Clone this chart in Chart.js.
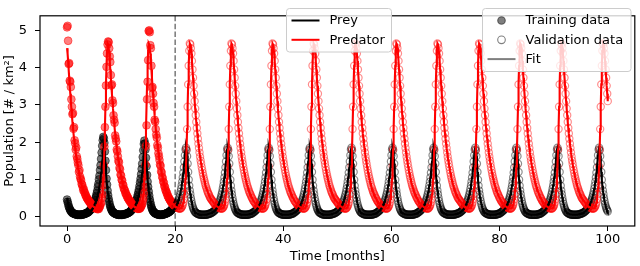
<!DOCTYPE html>
<html>
<head>
<meta charset="utf-8">
<script src="https://cdn.jsdelivr.net/npm/chart.js@4"></script>
<style>
html, body { margin: 0; padding: 0; background: #fff; }
</style>
</head>
<body>
<canvas id="chart" width="640" height="266"></canvas>
<script>
// every series is sampled each 0.1 month
const step = 0.1;
const trainEnd = 20;
const xTicks = [0, 20, 40, 60, 80, 100];
const yTicks = [0, 1, 2, 3, 4, 5];

// training observations, t = 0 .. 20
const trainPrey = [
    0.46, 0.40, 0.35, 0.28, 0.25, 0.20, 0.18, 0.15, 0.13, 0.12, 0.10, 0.09, 0.09, 0.08, 0.07, 0.07, 0.06, 0.06, 0.06, 0.05,
    0.05, 0.05, 0.06, 0.05, 0.05, 0.05, 0.06, 0.05, 0.06, 0.06, 0.06, 0.07, 0.07, 0.08, 0.08, 0.09, 0.10, 0.10, 0.11, 0.12,
    0.13, 0.15, 0.16, 0.18, 0.19, 0.22, 0.24, 0.27, 0.29, 0.33, 0.36, 0.41, 0.45, 0.51, 0.56, 0.63, 0.70, 0.80, 0.88, 1.00,
    1.10, 1.25, 1.38, 1.55, 1.72, 1.90, 2.05, 2.14, 2.10, 1.98, 1.75, 1.50, 1.25, 1.02, 0.86,
    0.70, 0.58, 0.48, 0.40, 0.33, 0.27, 0.23, 0.19, 0.16, 0.14, 0.12, 0.11, 0.10, 0.09, 0.08, 0.07, 0.07, 0.06, 0.06, 0.06,
    0.05, 0.05, 0.05, 0.06, 0.05, 0.05, 0.05, 0.06, 0.05, 0.06, 0.06, 0.07, 0.06, 0.07, 0.08, 0.08, 0.09, 0.09, 0.10, 0.11,
    0.12, 0.13, 0.14, 0.16, 0.17, 0.19, 0.21, 0.23, 0.26, 0.28, 0.31, 0.35, 0.38, 0.43, 0.47, 0.53, 0.59, 0.66, 0.73, 0.82,
    0.92, 1.02, 1.14, 1.28, 1.42, 1.60, 1.78, 1.95, 2.04, 1.96, 1.80, 1.58, 1.35, 1.12, 0.94, 0.80,
    0.68, 0.57, 0.47, 0.39, 0.32, 0.26, 0.22, 0.18, 0.15, 0.13, 0.12, 0.10, 0.09, 0.08, 0.08, 0.07, 0.06, 0.06, 0.06, 0.05,
    0.05, 0.05, 0.05, 0.06, 0.05, 0.05, 0.06, 0.06, 0.06, 0.07, 0.07, 0.08, 0.08, 0.09, 0.10, 0.10, 0.11, 0.12, 0.13, 0.14,
    0.15, 0.17, 0.18, 0.20, 0.22, 0.24, 0.27, 0.30, 0.33, 0.36
];
const trainPredator = [
    5.08, 5.12, 4.72, 4.10, 4.12, 3.65, 3.62, 3.48, 3.15, 2.95, 2.75, 2.78, 2.36, 2.40, 2.05, 1.97, 1.80, 1.86, 1.62, 1.55,
    1.45, 1.38, 1.20, 1.25, 1.08, 1.02, 0.98, 0.88, 0.86, 0.79, 0.71, 0.74, 0.66, 0.64, 0.58, 0.57, 0.52, 0.50, 0.47, 0.45,
    0.44, 0.40, 0.39, 0.38, 0.33, 0.34, 0.30, 0.31, 0.27, 0.28, 0.25, 0.27, 0.23, 0.24, 0.21, 0.23, 0.22, 0.20, 0.23, 0.21,
    0.26, 0.28, 0.34, 0.37, 0.50, 0.60, 0.84, 1.05, 1.38, 1.88, 2.40, 2.95, 3.52, 4.02, 4.38,
    4.62, 4.70, 4.68, 4.52, 4.30, 4.15, 3.80, 3.52, 3.55, 3.12, 3.05, 2.72, 2.60, 2.52, 2.18, 2.10, 2.02, 1.80, 1.75, 1.62,
    1.50, 1.46, 1.31, 1.27, 1.13, 1.10, 0.99, 0.97, 0.86, 0.85, 0.76, 0.73, 0.70, 0.63, 0.63, 0.57, 0.56, 0.50, 0.51, 0.46,
    0.44, 0.43, 0.39, 0.40, 0.35, 0.34, 0.32, 0.31, 0.28, 0.29, 0.26, 0.27, 0.24, 0.25, 0.22, 0.24, 0.21, 0.22, 0.21, 0.23,
    0.22, 0.25, 0.27, 0.31, 0.34, 0.42, 0.50, 0.63, 0.80, 1.08, 1.40, 1.90, 2.45, 3.15, 3.62, 4.20,
    4.98, 5.00, 4.95, 4.60, 4.52, 4.05, 3.45, 3.48, 3.30, 3.05, 2.95, 2.60, 2.55, 2.35, 2.20, 2.12, 1.92, 1.85, 1.70, 1.62,
    1.52, 1.40, 1.36, 1.22, 1.18, 1.07, 1.03, 0.94, 0.91, 0.82, 0.80, 0.72, 0.70, 0.64, 0.63, 0.56, 0.55, 0.50, 0.49, 0.45,
    0.44, 0.40, 0.39, 0.36, 0.36, 0.33, 0.32, 0.30, 0.30, 0.28
];

// fitted model, t = 0 .. 100, one row per predator cycle
const fitPrey = [
    0.50, 0.42, 0.35, 0.29, 0.24, 0.20, 0.17, 0.14, 0.12, 0.11, 0.10, 0.09, 0.08, 0.07, 0.07, 0.06, 0.06, 0.06, 0.05, 0.05, 0.05, 0.05, 0.05, 0.05, 0.05, 0.05, 0.05, 0.05, 0.05, 0.06, 0.06, 0.06, 0.07, 0.07, 0.08, 0.08, 0.09, 0.09, 0.10, 0.11, 0.12, 0.13, 0.14, 0.15, 0.17, 0.18, 0.20, 0.22, 0.24, 0.27, 0.30, 0.33, 0.36, 0.40, 0.44, 0.49, 0.54, 0.60, 0.67, 0.75, 0.84, 0.94, 1.05, 1.18, 1.32, 1.48, 1.65, 1.80, 1.85, 1.78, 1.62, 1.42, 1.20, 0.99, 0.83,
    0.70, 0.60, 0.50, 0.42, 0.35, 0.29, 0.24, 0.20, 0.17, 0.14, 0.12, 0.11, 0.10, 0.09, 0.08, 0.07, 0.07, 0.06, 0.06, 0.06, 0.05, 0.05, 0.05, 0.05, 0.05, 0.05, 0.05, 0.05, 0.05, 0.05, 0.05, 0.06, 0.06, 0.06, 0.07, 0.07, 0.08, 0.08, 0.09, 0.09, 0.11, 0.12, 0.13, 0.14, 0.15, 0.17, 0.18, 0.20, 0.22, 0.24, 0.27, 0.30, 0.33, 0.36, 0.40, 0.44, 0.49, 0.54, 0.60, 0.67, 0.75, 0.84, 0.94, 1.05, 1.18, 1.32, 1.48, 1.65, 1.80, 1.85, 1.78, 1.62, 1.42, 1.20, 0.99, 0.83,
    0.70, 0.60, 0.50, 0.42, 0.35, 0.29, 0.24, 0.20, 0.17, 0.14, 0.12, 0.11, 0.10, 0.09, 0.08, 0.07, 0.07, 0.06, 0.06, 0.06, 0.05, 0.05, 0.05, 0.05, 0.05, 0.05, 0.05, 0.05, 0.05, 0.05, 0.05, 0.06, 0.06, 0.06, 0.07, 0.07, 0.08, 0.08, 0.09, 0.09, 0.11, 0.12, 0.13, 0.14, 0.15, 0.17, 0.18, 0.20, 0.22, 0.24, 0.27, 0.30, 0.33, 0.36, 0.40, 0.44, 0.49, 0.54, 0.60, 0.67, 0.75, 0.84, 0.94, 1.05, 1.18, 1.32, 1.48, 1.65, 1.80, 1.85, 1.78, 1.62, 1.42, 1.20, 0.99, 0.83,
    0.70, 0.60, 0.50, 0.42, 0.35, 0.29, 0.24, 0.20, 0.17, 0.14, 0.12, 0.11, 0.10, 0.09, 0.08, 0.07, 0.07, 0.06, 0.06, 0.06, 0.05, 0.05, 0.05, 0.05, 0.05, 0.05, 0.05, 0.05, 0.05, 0.05, 0.05, 0.06, 0.06, 0.06, 0.07, 0.07, 0.08, 0.08, 0.09, 0.09, 0.10, 0.11, 0.12, 0.13, 0.14, 0.15, 0.17, 0.18, 0.20, 0.22, 0.24, 0.27, 0.30, 0.33, 0.36, 0.40, 0.44, 0.49, 0.54, 0.60, 0.67, 0.75, 0.84, 0.94, 1.05, 1.18, 1.32, 1.48, 1.65, 1.80, 1.85, 1.78, 1.62, 1.42, 1.20, 0.99, 0.83,
    0.70, 0.60, 0.50, 0.42, 0.35, 0.29, 0.24, 0.20, 0.17, 0.14, 0.12, 0.11, 0.10, 0.09, 0.08, 0.07, 0.07, 0.06, 0.06, 0.06, 0.05, 0.05, 0.05, 0.05, 0.05, 0.05, 0.05, 0.05, 0.05, 0.05, 0.05, 0.06, 0.06, 0.06, 0.07, 0.07, 0.08, 0.08, 0.09, 0.09, 0.11, 0.12, 0.13, 0.14, 0.15, 0.17, 0.18, 0.20, 0.22, 0.24, 0.27, 0.30, 0.33, 0.36, 0.40, 0.44, 0.49, 0.54, 0.60, 0.67, 0.75, 0.84, 0.94, 1.05, 1.18, 1.32, 1.48, 1.65, 1.80, 1.85, 1.78, 1.62, 1.42, 1.20, 0.99, 0.83,
    0.70, 0.60, 0.50, 0.42, 0.35, 0.29, 0.24, 0.20, 0.17, 0.14, 0.12, 0.11, 0.10, 0.09, 0.08, 0.07, 0.07, 0.06, 0.06, 0.06, 0.05, 0.05, 0.05, 0.05, 0.05, 0.05, 0.05, 0.05, 0.05, 0.05, 0.05, 0.06, 0.06, 0.06, 0.07, 0.07, 0.08, 0.08, 0.09, 0.09, 0.11, 0.12, 0.13, 0.14, 0.15, 0.17, 0.18, 0.20, 0.22, 0.24, 0.27, 0.30, 0.33, 0.36, 0.40, 0.44, 0.49, 0.54, 0.60, 0.67, 0.75, 0.84, 0.94, 1.05, 1.18, 1.32, 1.48, 1.65, 1.80, 1.85, 1.78, 1.62, 1.42, 1.20, 0.99, 0.83,
    0.70, 0.60, 0.50, 0.42, 0.35, 0.29, 0.24, 0.20, 0.17, 0.14, 0.12, 0.11, 0.10, 0.09, 0.08, 0.07, 0.07, 0.06, 0.06, 0.06, 0.05, 0.05, 0.05, 0.05, 0.05, 0.05, 0.05, 0.05, 0.05, 0.05, 0.05, 0.06, 0.06, 0.06, 0.07, 0.07, 0.08, 0.08, 0.09, 0.09, 0.10, 0.11, 0.12, 0.13, 0.14, 0.15, 0.17, 0.18, 0.20, 0.22, 0.24, 0.27, 0.30, 0.33, 0.36, 0.40, 0.44, 0.49, 0.54, 0.60, 0.67, 0.75, 0.84, 0.94, 1.05, 1.18, 1.32, 1.48, 1.65, 1.80, 1.85, 1.78, 1.62, 1.42, 1.20, 0.99, 0.83,
    0.70, 0.60, 0.50, 0.42, 0.35, 0.29, 0.24, 0.20, 0.17, 0.14, 0.12, 0.11, 0.10, 0.09, 0.08, 0.07, 0.07, 0.06, 0.06, 0.06, 0.05, 0.05, 0.05, 0.05, 0.05, 0.05, 0.05, 0.05, 0.05, 0.05, 0.05, 0.06, 0.06, 0.06, 0.07, 0.07, 0.08, 0.08, 0.09, 0.09, 0.11, 0.12, 0.13, 0.14, 0.15, 0.17, 0.18, 0.20, 0.22, 0.24, 0.27, 0.30, 0.33, 0.36, 0.40, 0.44, 0.49, 0.54, 0.60, 0.67, 0.75, 0.84, 0.94, 1.05, 1.18, 1.32, 1.48, 1.65, 1.80, 1.85, 1.78, 1.62, 1.42, 1.20, 0.99, 0.83,
    0.70, 0.60, 0.50, 0.42, 0.35, 0.29, 0.24, 0.20, 0.17, 0.14, 0.12, 0.11, 0.10, 0.09, 0.08, 0.07, 0.07, 0.06, 0.06, 0.06, 0.05, 0.05, 0.05, 0.05, 0.05, 0.05, 0.05, 0.05, 0.05, 0.05, 0.05, 0.06, 0.06, 0.06, 0.07, 0.07, 0.08, 0.08, 0.09, 0.09, 0.11, 0.12, 0.13, 0.14, 0.15, 0.17, 0.18, 0.20, 0.22, 0.24, 0.27, 0.30, 0.33, 0.36, 0.40, 0.44, 0.49, 0.54, 0.60, 0.67, 0.75, 0.84, 0.94, 1.05, 1.18, 1.32, 1.48, 1.65, 1.80, 1.85, 1.78, 1.62, 1.42, 1.20, 0.99, 0.83,
    0.70, 0.60, 0.50, 0.42, 0.35, 0.29, 0.24, 0.20, 0.17, 0.14, 0.12, 0.11, 0.10, 0.09, 0.08, 0.07, 0.07, 0.06, 0.06, 0.06, 0.05, 0.05, 0.05, 0.05, 0.05, 0.05, 0.05, 0.05, 0.05, 0.05, 0.05, 0.06, 0.06, 0.06, 0.07, 0.07, 0.08, 0.08, 0.09, 0.09, 0.10, 0.11, 0.12, 0.13, 0.14, 0.15, 0.17, 0.18, 0.20, 0.22, 0.24, 0.27, 0.30, 0.33, 0.36, 0.40, 0.44, 0.49, 0.54, 0.60, 0.67, 0.75, 0.84, 0.94, 1.05, 1.18, 1.32, 1.48, 1.65, 1.80, 1.85, 1.78, 1.62, 1.42, 1.20, 0.99, 0.83,
    0.70, 0.60, 0.50, 0.42, 0.35, 0.29, 0.24, 0.20, 0.17, 0.14, 0.12, 0.11, 0.10, 0.09, 0.08, 0.07, 0.07, 0.06, 0.06, 0.06, 0.05, 0.05, 0.05, 0.05, 0.05, 0.05, 0.05, 0.05, 0.05, 0.05, 0.05, 0.06, 0.06, 0.06, 0.07, 0.07, 0.08, 0.08, 0.09, 0.09, 0.11, 0.12, 0.13, 0.14, 0.15, 0.17, 0.18, 0.20, 0.22, 0.24, 0.27, 0.30, 0.33, 0.36, 0.40, 0.44, 0.49, 0.54, 0.60, 0.67, 0.75, 0.84, 0.94, 1.05, 1.18, 1.32, 1.48, 1.65, 1.80, 1.85, 1.78, 1.62, 1.42, 1.20, 0.99, 0.83,
    0.70, 0.60, 0.50, 0.42, 0.35, 0.29, 0.24, 0.20, 0.17, 0.14, 0.12, 0.11, 0.10, 0.09, 0.08, 0.07, 0.07, 0.06, 0.06, 0.06, 0.05, 0.05, 0.05, 0.05, 0.05, 0.05, 0.05, 0.05, 0.05, 0.05, 0.05, 0.06, 0.06, 0.06, 0.07, 0.07, 0.08, 0.08, 0.09, 0.09, 0.11, 0.12, 0.13, 0.14, 0.15, 0.17, 0.18, 0.20, 0.22, 0.24, 0.27, 0.30, 0.33, 0.36, 0.40, 0.44, 0.49, 0.54, 0.60, 0.67, 0.75, 0.84, 0.94, 1.05, 1.18, 1.32, 1.48, 1.65, 1.80, 1.85, 1.78, 1.62, 1.42, 1.20, 0.99, 0.83,
    0.70, 0.60, 0.50, 0.42, 0.35, 0.29, 0.24, 0.20, 0.17, 0.14, 0.12, 0.11, 0.10, 0.09, 0.08, 0.07, 0.07, 0.06, 0.06, 0.06, 0.05, 0.05, 0.05, 0.05, 0.05, 0.05, 0.05, 0.05, 0.05, 0.05, 0.05, 0.06, 0.06, 0.06, 0.07, 0.07, 0.08, 0.08, 0.09, 0.09, 0.10, 0.11, 0.12, 0.13, 0.14, 0.15, 0.17, 0.18, 0.20, 0.22, 0.24, 0.27, 0.30, 0.33, 0.36, 0.40, 0.44, 0.49, 0.54, 0.60, 0.67, 0.75, 0.84, 0.94, 1.05, 1.18, 1.32, 1.48, 1.65, 1.80, 1.85, 1.78, 1.62, 1.42, 1.20, 0.99, 0.83,
    0.70, 0.60, 0.50, 0.42, 0.35, 0.29, 0.24, 0.20, 0.17, 0.14
];
const fitPredator = [
    4.52, 4.38, 4.18, 3.95, 3.73, 3.51, 3.30, 3.10, 2.90, 2.72, 2.54, 2.38, 2.23, 2.09, 1.96, 1.84, 1.72, 1.61, 1.51, 1.42, 1.33, 1.25, 1.17, 1.10, 1.03, 0.97, 0.91, 0.85, 0.80, 0.76, 0.71, 0.67, 0.63, 0.60, 0.57, 0.53, 0.50, 0.48, 0.46, 0.44, 0.42, 0.40, 0.38, 0.36, 0.34, 0.32, 0.31, 0.29, 0.28, 0.27, 0.26, 0.25, 0.24, 0.23, 0.23, 0.22, 0.22, 0.22, 0.22, 0.23, 0.25, 0.28, 0.32, 0.38, 0.47, 0.60, 0.78, 1.02, 1.35, 1.80, 2.35, 2.95, 3.55, 4.05, 4.45,
    4.65, 4.62, 4.52, 4.38, 4.18, 3.95, 3.73, 3.51, 3.30, 3.10, 2.90, 2.72, 2.54, 2.38, 2.23, 2.09, 1.96, 1.84, 1.72, 1.61, 1.51, 1.42, 1.33, 1.25, 1.17, 1.10, 1.03, 0.97, 0.91, 0.85, 0.80, 0.76, 0.71, 0.67, 0.63, 0.60, 0.57, 0.53, 0.50, 0.48, 0.44, 0.42, 0.40, 0.38, 0.36, 0.34, 0.32, 0.31, 0.29, 0.28, 0.27, 0.26, 0.25, 0.24, 0.23, 0.23, 0.22, 0.22, 0.22, 0.22, 0.23, 0.25, 0.28, 0.32, 0.38, 0.47, 0.60, 0.78, 1.02, 1.35, 1.80, 2.35, 2.95, 3.55, 4.05, 4.45,
    4.65, 4.62, 4.52, 4.38, 4.18, 3.95, 3.73, 3.51, 3.30, 3.10, 2.90, 2.72, 2.54, 2.38, 2.23, 2.09, 1.96, 1.84, 1.72, 1.61, 1.51, 1.42, 1.33, 1.25, 1.17, 1.10, 1.03, 0.97, 0.91, 0.85, 0.80, 0.76, 0.71, 0.67, 0.63, 0.60, 0.57, 0.53, 0.50, 0.48, 0.44, 0.42, 0.40, 0.38, 0.36, 0.34, 0.32, 0.31, 0.29, 0.28, 0.27, 0.26, 0.25, 0.24, 0.23, 0.23, 0.22, 0.22, 0.22, 0.22, 0.23, 0.25, 0.28, 0.32, 0.38, 0.47, 0.60, 0.78, 1.02, 1.35, 1.80, 2.35, 2.95, 3.55, 4.05, 4.45,
    4.65, 4.62, 4.52, 4.38, 4.18, 3.95, 3.73, 3.51, 3.30, 3.10, 2.90, 2.72, 2.54, 2.38, 2.23, 2.09, 1.96, 1.84, 1.72, 1.61, 1.51, 1.42, 1.33, 1.25, 1.17, 1.10, 1.03, 0.97, 0.91, 0.85, 0.80, 0.76, 0.71, 0.67, 0.63, 0.60, 0.57, 0.53, 0.50, 0.48, 0.46, 0.44, 0.42, 0.40, 0.38, 0.36, 0.34, 0.32, 0.31, 0.29, 0.28, 0.27, 0.26, 0.25, 0.24, 0.23, 0.23, 0.22, 0.22, 0.22, 0.22, 0.23, 0.25, 0.28, 0.32, 0.38, 0.47, 0.60, 0.78, 1.02, 1.35, 1.80, 2.35, 2.95, 3.55, 4.05, 4.45,
    4.65, 4.62, 4.52, 4.38, 4.18, 3.95, 3.73, 3.51, 3.30, 3.10, 2.90, 2.72, 2.54, 2.38, 2.23, 2.09, 1.96, 1.84, 1.72, 1.61, 1.51, 1.42, 1.33, 1.25, 1.17, 1.10, 1.03, 0.97, 0.91, 0.85, 0.80, 0.76, 0.71, 0.67, 0.63, 0.60, 0.57, 0.53, 0.50, 0.48, 0.44, 0.42, 0.40, 0.38, 0.36, 0.34, 0.32, 0.31, 0.29, 0.28, 0.27, 0.26, 0.25, 0.24, 0.23, 0.23, 0.22, 0.22, 0.22, 0.22, 0.23, 0.25, 0.28, 0.32, 0.38, 0.47, 0.60, 0.78, 1.02, 1.35, 1.80, 2.35, 2.95, 3.55, 4.05, 4.45,
    4.65, 4.62, 4.52, 4.38, 4.18, 3.95, 3.73, 3.51, 3.30, 3.10, 2.90, 2.72, 2.54, 2.38, 2.23, 2.09, 1.96, 1.84, 1.72, 1.61, 1.51, 1.42, 1.33, 1.25, 1.17, 1.10, 1.03, 0.97, 0.91, 0.85, 0.80, 0.76, 0.71, 0.67, 0.63, 0.60, 0.57, 0.53, 0.50, 0.48, 0.44, 0.42, 0.40, 0.38, 0.36, 0.34, 0.32, 0.31, 0.29, 0.28, 0.27, 0.26, 0.25, 0.24, 0.23, 0.23, 0.22, 0.22, 0.22, 0.22, 0.23, 0.25, 0.28, 0.32, 0.38, 0.47, 0.60, 0.78, 1.02, 1.35, 1.80, 2.35, 2.95, 3.55, 4.05, 4.45,
    4.65, 4.62, 4.52, 4.38, 4.18, 3.95, 3.73, 3.51, 3.30, 3.10, 2.90, 2.72, 2.54, 2.38, 2.23, 2.09, 1.96, 1.84, 1.72, 1.61, 1.51, 1.42, 1.33, 1.25, 1.17, 1.10, 1.03, 0.97, 0.91, 0.85, 0.80, 0.76, 0.71, 0.67, 0.63, 0.60, 0.57, 0.53, 0.50, 0.48, 0.46, 0.44, 0.42, 0.40, 0.38, 0.36, 0.34, 0.32, 0.31, 0.29, 0.28, 0.27, 0.26, 0.25, 0.24, 0.23, 0.23, 0.22, 0.22, 0.22, 0.22, 0.23, 0.25, 0.28, 0.32, 0.38, 0.47, 0.60, 0.78, 1.02, 1.35, 1.80, 2.35, 2.95, 3.55, 4.05, 4.45,
    4.65, 4.62, 4.52, 4.38, 4.18, 3.95, 3.73, 3.51, 3.30, 3.10, 2.90, 2.72, 2.54, 2.38, 2.23, 2.09, 1.96, 1.84, 1.72, 1.61, 1.51, 1.42, 1.33, 1.25, 1.17, 1.10, 1.03, 0.97, 0.91, 0.85, 0.80, 0.76, 0.71, 0.67, 0.63, 0.60, 0.57, 0.53, 0.50, 0.48, 0.44, 0.42, 0.40, 0.38, 0.36, 0.34, 0.32, 0.31, 0.29, 0.28, 0.27, 0.26, 0.25, 0.24, 0.23, 0.23, 0.22, 0.22, 0.22, 0.22, 0.23, 0.25, 0.28, 0.32, 0.38, 0.47, 0.60, 0.78, 1.02, 1.35, 1.80, 2.35, 2.95, 3.55, 4.05, 4.45,
    4.65, 4.62, 4.52, 4.38, 4.18, 3.95, 3.73, 3.51, 3.30, 3.10, 2.90, 2.72, 2.54, 2.38, 2.23, 2.09, 1.96, 1.84, 1.72, 1.61, 1.51, 1.42, 1.33, 1.25, 1.17, 1.10, 1.03, 0.97, 0.91, 0.85, 0.80, 0.76, 0.71, 0.67, 0.63, 0.60, 0.57, 0.53, 0.50, 0.48, 0.44, 0.42, 0.40, 0.38, 0.36, 0.34, 0.32, 0.31, 0.29, 0.28, 0.27, 0.26, 0.25, 0.24, 0.23, 0.23, 0.22, 0.22, 0.22, 0.22, 0.23, 0.25, 0.28, 0.32, 0.38, 0.47, 0.60, 0.78, 1.02, 1.35, 1.80, 2.35, 2.95, 3.55, 4.05, 4.45,
    4.65, 4.62, 4.52, 4.38, 4.18, 3.95, 3.73, 3.51, 3.30, 3.10, 2.90, 2.72, 2.54, 2.38, 2.23, 2.09, 1.96, 1.84, 1.72, 1.61, 1.51, 1.42, 1.33, 1.25, 1.17, 1.10, 1.03, 0.97, 0.91, 0.85, 0.80, 0.76, 0.71, 0.67, 0.63, 0.60, 0.57, 0.53, 0.50, 0.48, 0.46, 0.44, 0.42, 0.40, 0.38, 0.36, 0.34, 0.32, 0.31, 0.29, 0.28, 0.27, 0.26, 0.25, 0.24, 0.23, 0.23, 0.22, 0.22, 0.22, 0.22, 0.23, 0.25, 0.28, 0.32, 0.38, 0.47, 0.60, 0.78, 1.02, 1.35, 1.80, 2.35, 2.95, 3.55, 4.05, 4.45,
    4.65, 4.62, 4.52, 4.38, 4.18, 3.95, 3.73, 3.51, 3.30, 3.10, 2.90, 2.72, 2.54, 2.38, 2.23, 2.09, 1.96, 1.84, 1.72, 1.61, 1.51, 1.42, 1.33, 1.25, 1.17, 1.10, 1.03, 0.97, 0.91, 0.85, 0.80, 0.76, 0.71, 0.67, 0.63, 0.60, 0.57, 0.53, 0.50, 0.48, 0.44, 0.42, 0.40, 0.38, 0.36, 0.34, 0.32, 0.31, 0.29, 0.28, 0.27, 0.26, 0.25, 0.24, 0.23, 0.23, 0.22, 0.22, 0.22, 0.22, 0.23, 0.25, 0.28, 0.32, 0.38, 0.47, 0.60, 0.78, 1.02, 1.35, 1.80, 2.35, 2.95, 3.55, 4.05, 4.45,
    4.65, 4.62, 4.52, 4.38, 4.18, 3.95, 3.73, 3.51, 3.30, 3.10, 2.90, 2.72, 2.54, 2.38, 2.23, 2.09, 1.96, 1.84, 1.72, 1.61, 1.51, 1.42, 1.33, 1.25, 1.17, 1.10, 1.03, 0.97, 0.91, 0.85, 0.80, 0.76, 0.71, 0.67, 0.63, 0.60, 0.57, 0.53, 0.50, 0.48, 0.44, 0.42, 0.40, 0.38, 0.36, 0.34, 0.32, 0.31, 0.29, 0.28, 0.27, 0.26, 0.25, 0.24, 0.23, 0.23, 0.22, 0.22, 0.22, 0.22, 0.23, 0.25, 0.28, 0.32, 0.38, 0.47, 0.60, 0.78, 1.02, 1.35, 1.80, 2.35, 2.95, 3.55, 4.05, 4.45,
    4.65, 4.62, 4.52, 4.38, 4.18, 3.95, 3.73, 3.51, 3.30, 3.10, 2.90, 2.72, 2.54, 2.38, 2.23, 2.09, 1.96, 1.84, 1.72, 1.61, 1.51, 1.42, 1.33, 1.25, 1.17, 1.10, 1.03, 0.97, 0.91, 0.85, 0.80, 0.76, 0.71, 0.67, 0.63, 0.60, 0.57, 0.53, 0.50, 0.48, 0.46, 0.44, 0.42, 0.40, 0.38, 0.36, 0.34, 0.32, 0.31, 0.29, 0.28, 0.27, 0.26, 0.25, 0.24, 0.23, 0.23, 0.22, 0.22, 0.22, 0.22, 0.23, 0.25, 0.28, 0.32, 0.38, 0.47, 0.60, 0.78, 1.02, 1.35, 1.80, 2.35, 2.95, 3.55, 4.05, 4.45,
    4.65, 4.62, 4.52, 4.38, 4.18, 3.95, 3.73, 3.51, 3.30, 3.10
];

// validation observations follow the model after the training window
const firstValid = Math.round(trainEnd / step) + 1;
const validPrey = fitPrey.slice(firstValid);
const validPredator = fitPredator.slice(firstValid);

const FONT = 'DejaVu Sans';

function points(values, startIndex) {
    return values.map((v, i) => ({ x: +((i + startIndex) * step).toFixed(2), y: v }));
}

function markerSet(label, values, start, color, filled, order) {
    return {
        label: label,
        data: points(values, start),
        showLine: false,
        pointRadius: filled ? 3.9 : 3.6,
        pointBorderWidth: filled ? 1 : 1.2,
        pointBackgroundColor: filled ? color : 'rgba(0,0,0,0)',
        pointBorderColor: color,
        order: order
    };
}

function lineSet(label, values, color, order) {
    return {
        label: label,
        data: points(values, 0),
        showLine: true,
        borderColor: color,
        borderWidth: 2.1,
        pointRadius: 0,
        order: order
    };
}

function drawLegend(ctx, box, rows) {
    ctx.save();
    ctx.beginPath();
    ctx.roundRect(box.x, box.y, box.w, box.h, 3);
    ctx.fillStyle = 'rgba(255,255,255,0.8)';
    ctx.fill();
    ctx.strokeStyle = '#cccccc';
    ctx.lineWidth = 1;
    ctx.stroke();
    ctx.font = '13px "' + FONT + '"';
    ctx.textBaseline = 'middle';
    rows.forEach((r, i) => {
        const y = box.y + 12 + i * 19.3;
        const sx = box.x + 5;
        if (r.kind === 'line') {
            ctx.strokeStyle = r.color;
            ctx.lineWidth = 2;
            ctx.beginPath();
            ctx.moveTo(sx, y);
            ctx.lineTo(sx + 28, y);
            ctx.stroke();
        } else {
            ctx.beginPath();
            ctx.arc(sx + 14, y, 3.8, 0, Math.PI * 2);
            if (r.kind === 'dot') {
                ctx.fillStyle = r.color;
                ctx.fill();
            }
            ctx.strokeStyle = r.color;
            ctx.lineWidth = 1.1;
            ctx.stroke();
        }
        ctx.fillStyle = '#000';
        ctx.fillText(r.text, sx + 38, y + 0.5);
    });
    ctx.restore();
}

const decorations = {
    id: 'decorations',
    beforeDatasetsDraw(chart) {
        const { ctx, chartArea: a, scales: { x } } = chart;
        const px = x.getPixelForValue(trainEnd);
        ctx.save();
        ctx.strokeStyle = '#808080';
        ctx.lineWidth = 1.6;
        ctx.setLineDash([5.5, 2.4]);
        ctx.beginPath();
        ctx.moveTo(px, a.top);
        ctx.lineTo(px, a.bottom);
        ctx.stroke();
        ctx.restore();
    },
    afterDatasetsDraw(chart) {
        const { ctx, chartArea: a } = chart;
        ctx.save();
        ctx.strokeStyle = '#000';
        ctx.lineWidth = 1.2;
        ctx.strokeRect(a.left, a.top, a.right - a.left, a.bottom - a.top);
        ctx.restore();
    },
    afterDraw(chart) {
        const ctx = chart.ctx;
        drawLegend(ctx, { x: 286.5, y: 8.5, w: 105, h: 43.5 }, [
            { kind: 'line', color: '#000000', text: 'Prey' },
            { kind: 'line', color: '#ff0000', text: 'Predator' }
        ]);
        drawLegend(ctx, { x: 482.5, y: 8.5, w: 148.5, h: 63 }, [
            { kind: 'dot', color: 'rgba(0,0,0,0.5)', text: 'Training data' },
            { kind: 'ring', color: 'rgba(0,0,0,0.5)', text: 'Validation data' },
            { kind: 'line', color: 'rgba(0,0,0,0.5)', text: 'Fit' }
        ]);
    }
};

const axisFont = { family: FONT, size: 13 };

new Chart(document.getElementById('chart'), {
    type: 'scatter',
    data: {
        datasets: [
            lineSet('Predator', fitPredator, '#ff0000', 0),
            lineSet('Prey', fitPrey, '#000000', 1),
            markerSet('Validation predator', validPredator, firstValid, 'rgba(255,0,0,0.45)', false, 2),
            markerSet('Validation prey', validPrey, firstValid, 'rgba(0,0,0,0.45)', false, 3),
            markerSet('Training predator', trainPredator, 0, 'rgba(255,0,0,0.5)', true, 4),
            markerSet('Training prey', trainPrey, 0, 'rgba(0,0,0,0.5)', true, 5)
        ]
    },
    options: {
        responsive: false,
        animation: false,
        events: [],
        layout: { padding: { top: 2, right: 2, left: 0, bottom: 0 } },
        plugins: { legend: { display: false }, tooltip: { enabled: false } },
        scales: {
            x: {
                type: 'linear',
                min: -5,
                max: 105,
                afterBuildTicks: s => { s.ticks = xTicks.map(v => ({ value: v })); },
                afterFit: s => { s.height = 40; },
                border: { display: false },
                grid: { drawOnChartArea: false, drawTicks: true, tickLength: 5, tickColor: '#000', tickWidth: 1 },
                ticks: { color: '#000', font: axisFont, padding: 1, maxRotation: 0 },
                title: { display: true, text: 'Time [months]', color: '#000', font: axisFont, padding: { top: 0, bottom: 1.7 } }
            },
            y: {
                min: -0.25,
                max: 5.39,
                afterBuildTicks: s => { s.ticks = yTicks.map(v => ({ value: v })); },
                afterFit: s => { s.width = 40; },
                border: { display: false },
                grid: { drawOnChartArea: false, drawTicks: true, tickLength: 5, tickColor: '#000', tickWidth: 1 },
                ticks: { color: '#000', font: axisFont, padding: 8 },
                title: { display: true, text: 'Population [# / km²]', color: '#000', font: axisFont, padding: { top: 1.7, bottom: 0 } }
            }
        }
    },
    plugins: [decorations]
});
</script>
</body>
</html>
